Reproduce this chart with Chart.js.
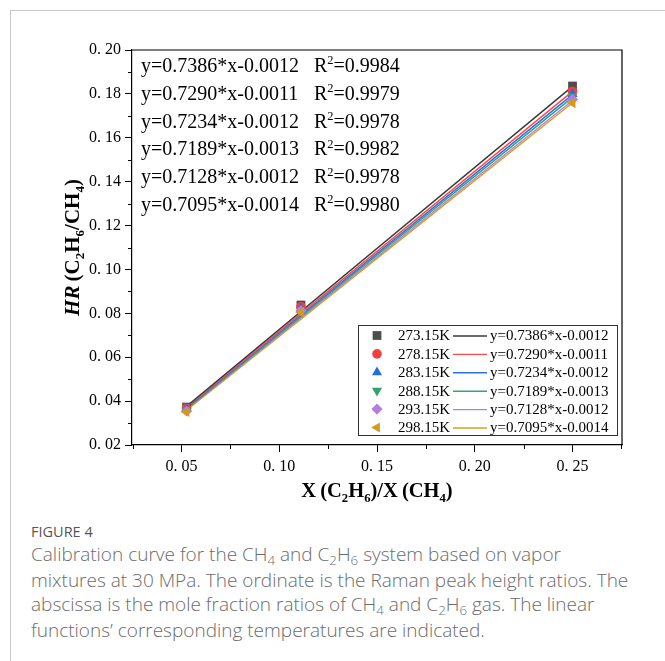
<!DOCTYPE html>
<html>
<head>
<meta charset="utf-8">
<script src="https://cdn.jsdelivr.net/npm/chart.js@4.4.0/dist/chart.umd.min.js"></script>
<style>
  body { margin: 0; background: #fff; width: 665px; height: 661px; overflow: hidden; position: relative; }
  #frame { position: absolute; left: 10px; top: 10px; width: 660px; height: 660px; border-left: 1px solid #c8c8c8; border-top: 1px solid #c8c8c8; }
  #wrap { position: absolute; left: 0; top: 0; width: 665px; height: 520px; }
  #cap { position: absolute; left: 31px; top: 522px; width: 632px; font-family: "Open Sans", Lato, sans-serif; color: #6b6b6b; }
  #cap .fig { font-size: 14.5px; line-height: 20px; color: #555; }
  #cap .txt { font-size: 19px; line-height: 24px; font-weight: 300; white-space: nowrap; }
  #cap sub { font-size: 0.7em; vertical-align: baseline; position: relative; top: 0.3em; }
</style>
</head>
<body>
<div id="frame"></div>
<div id="wrap"><canvas id="myChart" width="665" height="520"></canvas></div>
<div id="cap">
  <div class="fig">FIGURE 4</div>
  <div class="txt">Calibration curve for the CH<sub>4</sub> and C<sub>2</sub>H<sub>6</sub> system based on vapor<br>mixtures at 30 MPa. The ordinate is the Raman peak height ratios. The<br>abscissa is the mole fraction ratios of CH<sub>4</sub> and C<sub>2</sub>H<sub>6</sub> gas. The linear<br>functions’ corresponding temperatures are indicated.</div>
</div>
<script>
// measured points: X(C2H6)/X(CH4) vs HR(C2H6/CH4)
const xVals = [0.0526, 0.1111, 0.25]
const temps = ['273.15K', '278.15K', '283.15K', '288.15K', '293.15K', '298.15K']
const hr273 = [0.0373, 0.0838, 0.1836]
const hr278 = [0.0368, 0.0830, 0.1812]
const hr283 = [0.0364, 0.0822, 0.1799]
const hr288 = [0.0358, 0.0816, 0.1788]
const hr293 = [0.0355, 0.0812, 0.1775]
const hr298 = [0.0350, 0.0805, 0.1758]
// linear fits as printed on the figure
const slopes = [0.7386, 0.7290, 0.7234, 0.7189, 0.7128, 0.7095]
const intercepts = [-0.0012, -0.0011, -0.0012, -0.0013, -0.0012, -0.0014]
const r2 = [0.9984, 0.9979, 0.9978, 0.9982, 0.9978, 0.9980]
const xTicks = [0.05, 0.10, 0.15, 0.20, 0.25]
const yTicks = [0.02, 0.04, 0.06, 0.08, 0.10, 0.12, 0.14, 0.16, 0.18, 0.20]

const series = [hr273, hr278, hr283, hr288, hr293, hr298]
const markerColors = ['#4d4d4d', '#f23f3f', '#1f6fe0', '#2fa36c', '#b07ee2', '#d49c14']
const lineColors = ['#3a3a3a', '#ff4a4a', '#2a72ea', '#36a56f', '#b47fe4', '#d8a11a']
const markers = [
  { pointStyle: 'rect', radius: 6.2, rotation: 0 },
  { pointStyle: 'circle', radius: 4.8, rotation: 0 },
  { pointStyle: 'triangle', radius: 5.8, rotation: 0 },
  { pointStyle: 'triangle', radius: 5.8, rotation: 180 },
  { pointStyle: 'rectRot', radius: 5.6, rotation: 0 },
  { pointStyle: 'triangle', radius: 5.8, rotation: 270 }
]

const fmt = v => v.toFixed(2).replace('.', '. ')
const eqText = i => 'y=' + slopes[i].toFixed(4) + '*x-' + Math.abs(intercepts[i]).toFixed(4)

var datasets = []
series.forEach((vals, i) => {
  datasets.push({
    label: temps[i] + ' fit',
    data: [xVals[0], xVals[xVals.length - 1]].map(x => ({ x: x, y: slopes[i] * x + intercepts[i] })),
    showLine: true,
    borderColor: lineColors[i],
    borderWidth: 1.5,
    pointRadius: 0,
    order: 10 + i
  })
  datasets.push({
    label: temps[i],
    data: vals.map((y, j) => ({ x: xVals[j], y: y })),
    backgroundColor: markerColors[i],
    borderColor: markerColors[i],
    borderWidth: 0,
    pointStyle: markers[i].pointStyle,
    pointRadius: markers[i].radius,
    pointRotation: markers[i].rotation,
    order: 5 - i
  })
})

// text with subscript / superscript pieces: [text, 'sub'|'sup'|null, italic]
function drawRich (ctx, parts, x, y, size, bold, align) {
  const weight = bold ? 'bold ' : ''
  const fontFor = (p, s) => (p[2] ? 'italic ' : '') + weight + s + 'px "Liberation Serif", "Times New Roman", serif'
  let total = 0
  parts.forEach(p => {
    ctx.font = fontFor(p, p[1] ? size * 0.62 : size)
    total += ctx.measureText(p[0]).width
  })
  let cx = align === 'center' ? x - total / 2 : x
  ctx.textAlign = 'left'
  ctx.textBaseline = 'alphabetic'
  parts.forEach(p => {
    ctx.font = fontFor(p, p[1] ? size * 0.62 : size)
    let dy = p[1] === 'sub' ? size * 0.22 : p[1] === 'sup' ? -size * 0.38 : 0
    ctx.fillText(p[0], cx, y + dy)
    cx += ctx.measureText(p[0]).width
  })
}

const decorations = {
  id: 'decorations',
  afterDraw (chart) {
    const ctx = chart.ctx
    const a = chart.chartArea
    const xs = chart.scales.x
    const ys = chart.scales.y
    ctx.save()
    ctx.fillStyle = '#000'
    ctx.strokeStyle = '#000'
    ctx.lineWidth = 1.2
    // top and right frame
    ctx.beginPath()
    ctx.moveTo(a.left, a.top)
    ctx.lineTo(a.right, a.top)
    ctx.lineTo(a.right, a.bottom)
    ctx.stroke()
    // minor ticks
    ctx.lineWidth = 1
    ctx.beginPath()
    for (let v = 0.03; v < 0.2; v += 0.02) {
      const py = Math.round(ys.getPixelForValue(v)) + 0.5
      ctx.moveTo(a.left, py)
      ctx.lineTo(a.left - 4, py)
    }
    for (let v = 0.025; v < 0.28; v += 0.05) {
      if (v < xs.min || v > xs.max) continue
      const px = Math.round(xs.getPixelForValue(v)) + 0.5
      ctx.moveTo(px, a.bottom)
      ctx.lineTo(px, a.bottom + 4)
    }
    ctx.stroke()

    // equations with R^2
    for (let i = 0; i < slopes.length; i++) {
      const by = 72 + i * 27.8
      drawRich(ctx, [[eqText(i)]], 141, by, 20, false, 'left')
      drawRich(ctx, [['R'], ['2', 'sup'], ['=' + r2[i].toFixed(4)]], 314, by, 20, false, 'left')
    }

    // legend box
    ctx.strokeStyle = '#333'
    ctx.lineWidth = 1
    ctx.strokeRect(358.5, 325.5, 259, 110)
    for (let i = 0; i < temps.length; i++) {
      const ry = 335.5 + i * 18.4
      ctx.fillStyle = markerColors[i]
      Chart.helpers.drawPoint(ctx, {
        pointStyle: markers[i].pointStyle,
        radius: markers[i].radius,
        rotation: markers[i].rotation,
        borderWidth: 0
      }, 377, ry)
      ctx.fillStyle = '#000'
      ctx.font = '15px "Liberation Serif", serif'
      ctx.textBaseline = 'middle'
      ctx.textAlign = 'left'
      ctx.fillText(temps[i], 398, ry + 1)
      ctx.fillText(eqText(i), 490, ry + 1)
      ctx.strokeStyle = lineColors[i]
      ctx.lineWidth = 1.4
      ctx.beginPath()
      ctx.moveTo(453, ry + 0.5)
      ctx.lineTo(487, ry + 0.5)
      ctx.stroke()
    }

    // axis titles
    ctx.fillStyle = '#000'
    drawRich(ctx, [['X\u2009(C'], ['2', 'sub'], ['H'], ['6', 'sub'], [')/X\u2009(CH'], ['4', 'sub'], [')']], 377, 497, 20.5, true, 'center')
    ctx.translate(79, (a.top + a.bottom) / 2)
    ctx.rotate(-Math.PI / 2)
    drawRich(ctx, [['HR', null, true], ['\u2009(C'], ['2', 'sub'], ['H'], ['6', 'sub'], ['/CH'], ['4', 'sub'], [')']], 0, 0, 21, true, 'center')
    ctx.restore()
  }
}

const tickFont = { family: '"Liberation Serif", serif', size: 16 }
var ctx = document.getElementById('myChart')
var hrChart = new Chart(ctx, {
  type: 'scatter',
  data: { datasets: datasets },
  options: {
    responsive: false,
    animation: false,
    layout: { padding: { top: 50, right: 43, left: 0, bottom: 0 } },
    plugins: { legend: { display: false }, tooltip: { enabled: false } },
    scales: {
      x: {
        type: 'linear',
        min: 0.0247,
        max: 0.2753,
        afterBuildTicks: s => { s.ticks = xTicks.map(v => ({ value: v })) },
        afterFit: s => { s.height = 75 },
        ticks: { callback: v => fmt(v), font: tickFont, color: '#000', padding: 5, maxRotation: 0, autoSkip: false },
        grid: { drawOnChartArea: false, drawTicks: true, tickLength: 7, tickColor: '#000', tickWidth: 1 },
        border: { display: true, color: '#000', width: 1.2 }
      },
      y: {
        type: 'linear',
        min: 0.02,
        max: 0.20,
        afterBuildTicks: s => { s.ticks = yTicks.map(v => ({ value: v })) },
        afterFit: s => { s.width = 132 },
        ticks: { callback: v => fmt(v), font: tickFont, color: '#000', padding: 4, autoSkip: false },
        grid: { drawOnChartArea: false, drawTicks: true, tickLength: 7, tickColor: '#000', tickWidth: 1 },
        border: { display: true, color: '#000', width: 1.2 }
      }
    }
  },
  plugins: [decorations]
})
</script>
</body>
</html>
